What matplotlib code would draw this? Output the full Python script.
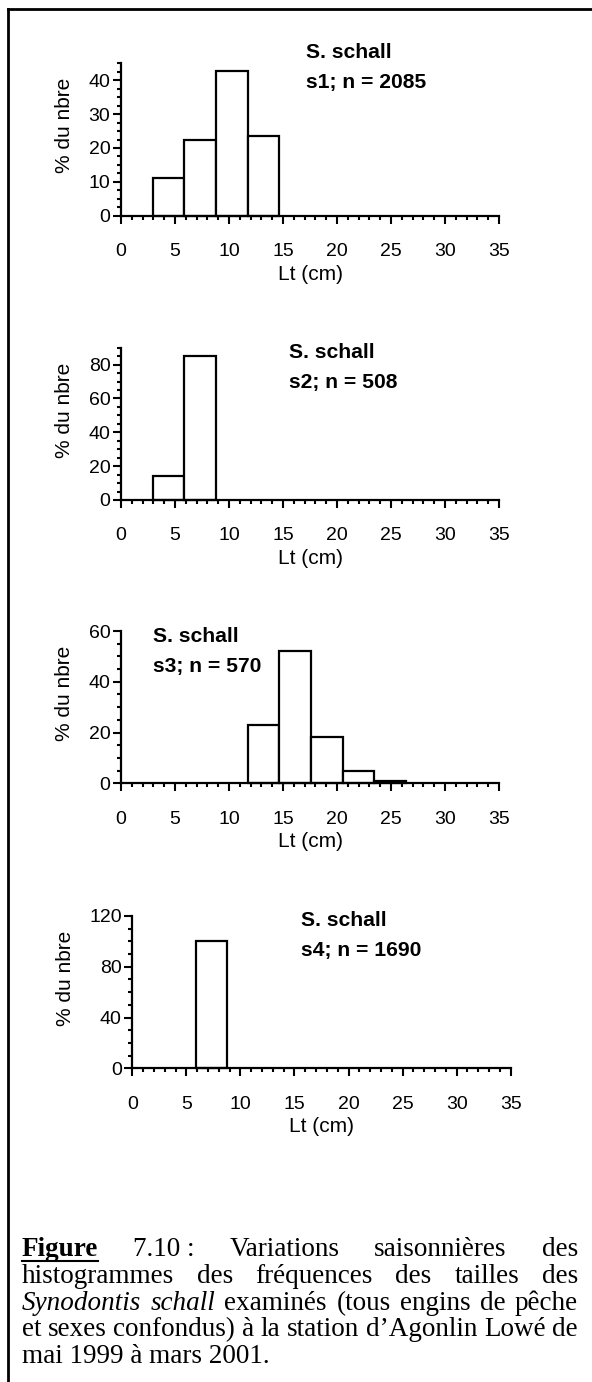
import matplotlib
matplotlib.use("Agg")
import matplotlib.pyplot as plt
from matplotlib.ticker import MultipleLocator
from matplotlib.lines import Line2D

plt.rcParams['font.family'] = ['Liberation Sans', 'DejaVu Sans']

W, H = 592, 1382

# size classes (left edge of each class, cm) and class width
bin_left = [2.93, 5.86, 8.79, 11.72, 14.65, 17.58, 20.51, 23.44]
bin_width = 2.93

# % du nombre per class, one list per season
s1 = [11.1, 22.4, 42.7, 23.5, 0, 0, 0, 0]
s2 = [14.4, 84.9, 0, 0, 0, 0, 0, 0]
s3 = [0, 0, 0, 23.0, 52.1, 18.1, 4.7, 0.8]
s4 = [0, 100, 0, 0, 0, 0, 0, 0]

seasons = ["s1", "s2", "s3", "s4"]
counts = [2085, 508, 570, 1690]
series = [s1, s2, s3, s4]
y_max = [45, 90, 60, 120]
y_major = [10, 20, 20, 40]
y_minor = [2.5, 5, 5, 10]
x_ticks = [0, 5, 10, 15, 20, 25, 30, 35]

# axes boxes in pixels: left, top, right, bottom
boxes = [(121, 63.3, 499, 215.7),
         (121, 347.7, 499, 500),
         (121, 631, 499, 783.3),
         (132.3, 916, 510.7, 1068.3)]
# where the "S. schall" block starts (left x, first baseline)
title_pos = [(306, 58.3), (289, 358.3), (153, 641.7), (301, 926)]
ylab_x = [64, 64, 64, 65]

fig = plt.figure(figsize=(W / 100, H / 100), dpi=100)

for i in range(4):
    l, t, r, b = boxes[i]
    ax = fig.add_axes([l / W, 1 - b / H, (r - l) / W, (b - t) / H])
    xs = [x for x, v in zip(bin_left, series[i]) if v > 0]
    vs = [v for v in series[i] if v > 0]
    ax.bar(xs, vs, width=bin_width, align='edge', facecolor='white',
           edgecolor='black', linewidth=1.6, clip_on=False, zorder=2)
    ax.set_xlim(0, 35)
    ax.set_ylim(0, y_max[i])
    ax.set_xticks(x_ticks)
    ax.xaxis.set_minor_locator(MultipleLocator(1))
    ax.yaxis.set_major_locator(MultipleLocator(y_major[i]))
    ax.yaxis.set_minor_locator(MultipleLocator(y_minor[i]))
    for s in ['top', 'right']:
        ax.spines[s].set_visible(False)
    for s in ['left', 'bottom']:
        ax.spines[s].set_linewidth(1.6)
        ax.spines[s].set_zorder(3)
    ax.tick_params(which='major', length=5.8, width=1.5, labelsize=14)
    ax.tick_params(which='minor', length=2.9, width=1.5)
    ax.tick_params(axis='x', which='major', pad=14)
    ax.tick_params(axis='y', which='major', pad=1.8)
    ax.patch.set_visible(False)
    ax.text(0.5, -58.5 / (b - t), "Lt (cm)", transform=ax.transAxes,
            ha='center', va='center', fontsize=15)
    ax.text((ylab_x[i] - l) / (r - l), 90 / (b - t), "% du nbre",
            transform=ax.transAxes, ha='center', va='center',
            rotation=90, fontsize=15)
    tx, ty = title_pos[i]
    fig.text(tx / W, 1 - ty / H, "S. schall", fontsize=15.2,
             fontweight='bold', va='baseline')
    fig.text(tx / W, 1 - (ty + 30) / H, "%s; n = %d" % (seasons[i], counts[i]),
             fontsize=15.2, fontweight='bold', va='baseline')

# frame (top and left only)
fig.add_artist(Line2D([7.5 / W, 1], [1 - 8.5 / H, 1 - 8.5 / H],
                      transform=fig.transFigure, color='black', lw=2))
fig.add_artist(Line2D([7.5 / W, 7.5 / W], [1 - 8.5 / H, 0],
                      transform=fig.transFigure, color='black', lw=2))

# caption, justified like the original page
cap_fs = 19.5
cap_left, cap_right = 21.7, 578
renderer = fig.canvas.get_renderer()


def put_line(words, yb, justify=True):
    arts = []
    for w, kw in words:
        arts.append(fig.text(0, 1 - yb / H, w, fontsize=cap_fs,
                             family='Liberation Serif', va='baseline', **kw))
    widths = [a.get_window_extent(renderer).width for a in arts]
    if justify and len(arts) > 1:
        gap = (cap_right - cap_left - sum(widths)) / (len(arts) - 1)
    else:
        gap = 0.25 * cap_fs * 100 / 72
    x = cap_left
    for a, w in zip(arts, widths):
        a.set_x(x / W)
        x += w + gap
    return arts, widths


n = {}
it = {'style': 'italic'}
bd = {'fontweight': 'bold'}
lines = [
    [("Figure", bd), ("7.10 :", n), ("Variations", n), ("saisonnières", n), ("des", n)],
    [("histogrammes", n), ("des", n), ("fréquences", n), ("des", n), ("tailles", n), ("des", n)],
    [("Synodontis", it), ("schall", it), ("examinés", n), ("(tous", n), ("engins", n),
     ("de", n), ("pêche", n)],
    [("et", n), ("sexes", n), ("confondus)", n), ("à", n), ("la", n), ("station", n),
     ("d’Agonlin", n), ("Lowé", n), ("de", n)],
]
baselines = [1256, 1283, 1310, 1336.5, 1363]
for k, words in enumerate(lines):
    arts, widths = put_line(words, baselines[k])
    if k == 0:
        uy = 1 - (baselines[0] + 4.5) / H
        fig.add_artist(Line2D([cap_left / W, (cap_left + widths[0]) / W], [uy, uy],
                              transform=fig.transFigure, color='black', lw=1.5))
put_line([("mai 1999 à mars 2001.", n)], baselines[4], justify=False)

fig.savefig("out.png", dpi=100)
